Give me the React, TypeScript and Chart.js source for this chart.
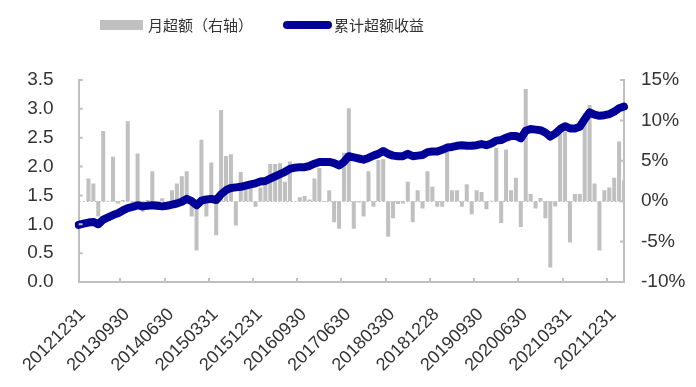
import { useEffect, useRef } from 'react';
import { Chart, registerables } from 'chart.js';

Chart.register(...registerables);

// ---- data ----
const tickLabels: string[] = [
  '20121231', '20130930', '20140630', '20150331', '20151231', '20160930', '20170630',
  '20180330', '20181228', '20190930', '20200630', '20210331', '20211231',
];

// monthly excess return (%), right axis — Dec 2012 .. Mar 2022
const monthlyExcess: number[] = [
  0, 0, 2.8, 2.2, -1.9, 8.7, 0, 5.5, -0.3, 0.15,
  9.9, -1.1, 5.9, -1.3, 0.15, 3.7, -1.1, 0.35, 0, 1.35,
  2.2, 3.1, 3.7, -1.9, -6.1, 7.6, -1.9, 4.8, -4.2, 11.3,
  5.6, 5.8, -3.0, 3.6, 2.1, 2.1, -0.7, 1.7, 2.4, 4.6,
  4.6, 4.7, 2.4, 4.9, 0, 0.5, 0.65, 0.2, 2.8, 4.1,
  -0.1, 1.35, -2.6, -3.4, 6.0, 11.5, -3.4, -0.15, -1.9, 3.7,
  -0.7, 5.1, 5.2, -4.4, -2.1, -0.35, -0.3, 2.4, -2.6, 1.35,
  -0.9, 3.7, 1.8, -0.7, -0.7, 6.2, 1.35, 1.35, -0.7, 2.1,
  -1.6, 1.35, 1.15, -1.0, 0.07, 6.6, -2.7, 6.4, 1.35, 2.9,
  -3.2, 13.9, 0.9, -0.9, 0.4, -2.1, -8.2, -0.65, 8.4, 8.6,
  -5.1, 0.9, 0.9, 10.9, 11.9, 2.2, -6.1, 1.35, 1.7, 2.9,
  7.4, 2.6,
];

// cumulative excess (net value), left axis
const cumulativeExcess: number[] = [
  0.99, 1.01, 1.03, 1.04, 1.00, 1.08, 1.12, 1.16, 1.19, 1.24,
  1.28, 1.30, 1.33, 1.31, 1.32, 1.33, 1.32, 1.31, 1.32, 1.34,
  1.36, 1.39, 1.44, 1.40, 1.33, 1.41, 1.43, 1.44, 1.42, 1.52,
  1.59, 1.63, 1.64, 1.65, 1.67, 1.69, 1.71, 1.74, 1.75, 1.79,
  1.83, 1.87, 1.91, 1.96, 1.98, 1.99, 1.99, 2.01, 2.05, 2.08,
  2.08, 2.08, 2.06, 2.02, 2.08, 2.18, 2.16, 2.14, 2.12, 2.15,
  2.19, 2.22, 2.27, 2.22, 2.19, 2.18, 2.18, 2.22, 2.18, 2.19,
  2.20, 2.25, 2.26, 2.26, 2.29, 2.33, 2.34, 2.36, 2.37, 2.36,
  2.36, 2.37, 2.39, 2.37, 2.40, 2.45, 2.46, 2.50, 2.53, 2.53,
  2.49, 2.62, 2.65, 2.64, 2.63, 2.59, 2.52, 2.57, 2.65, 2.70,
  2.66, 2.66, 2.69, 2.82, 2.94, 2.90, 2.88, 2.89, 2.91, 2.95,
  3.01, 3.04,
];

const legendBarLabel = '月超额（右轴）';
const legendLineLabel = '累计超额收益';

// category labels: labelled every 9 months, the rest are month keys
const categories: string[] = monthlyExcess.map((_, i) => {
  if (i % 9 === 0 && tickLabels[i / 9]) return tickLabels[i / 9];
  const y = 2012 + Math.floor((11 + i) / 12);
  const m = ((11 + i) % 12) + 1;
  return `${y}${m < 10 ? '0' : ''}${m}`;
});

const AXIS = '#BFBFBF';
const BAR = '#C0C0C0';
const LINE = '#000099';
const TEXT = '#333333';
const FONT = '"Liberation Sans", Arial, sans-serif';
const CJK = '"Noto Sans CJK SC", sans-serif';

const decor = {
  id: 'decor',
  beforeDatasetsDraw(chart: any) {
    const { ctx, chartArea, scales } = chart;
    const zy = Math.round(scales.y1.getPixelForValue(0)) + 0.5;
    ctx.save();
    ctx.strokeStyle = AXIS;
    ctx.lineWidth = 1;
    ctx.setLineDash([2, 2]);
    ctx.beginPath();
    ctx.moveTo(chartArea.left, zy);
    ctx.lineTo(chartArea.right, zy);
    ctx.stroke();
    ctx.restore();
  },
  afterDraw(chart: any) {
    const { ctx, chartArea, scales } = chart;
    ctx.save();
    ctx.strokeStyle = AXIS;
    ctx.lineWidth = 2;
    ctx.beginPath();
    scales.y.ticks.forEach((t: any) => {
      const p = scales.y.getPixelForValue(t.value);
      ctx.moveTo(chartArea.left, p);
      ctx.lineTo(chartArea.left + 4, p);
    });
    scales.y1.ticks.forEach((t: any) => {
      const p = scales.y1.getPixelForValue(t.value);
      ctx.moveTo(chartArea.right, p);
      ctx.lineTo(chartArea.right - 4, p);
    });
    const x = scales.x;
    const w = x.getPixelForValue(1) - x.getPixelForValue(0);
    for (let i = 9; i < categories.length; i += 9) {
      const p = Math.round(x.getPixelForValue(i) - w / 2);
      ctx.moveTo(p, chartArea.bottom);
      ctx.lineTo(p, chartArea.bottom - 4);
    }
    ctx.stroke();

    // legend
    ctx.fillStyle = BAR;
    ctx.fillRect(100, 20, 43, 10);
    ctx.strokeStyle = LINE;
    ctx.lineWidth = 8;
    ctx.lineCap = 'round';
    ctx.beginPath();
    ctx.moveTo(287, 25);
    ctx.lineTo(328, 25);
    ctx.stroke();
    ctx.fillStyle = TEXT;
    ctx.font = `15px ${CJK}`;
    ctx.textBaseline = 'middle';
    ctx.textAlign = 'left';
    ctx.fillText(legendBarLabel, 148, 25);
    ctx.fillText(legendLineLabel, 334, 25);
    ctx.restore();
  },
};

export default function App() {
  const ref = useRef<HTMLCanvasElement | null>(null);
  useEffect(() => {
    const canvas = ref.current;
    if (!canvas) return;
    const chart = new Chart(canvas, {
      type: 'bar',
      data: {
        labels: categories,
        datasets: [
          {
            type: 'line',
            label: legendLineLabel,
            data: cumulativeExcess,
            yAxisID: 'y',
            borderColor: LINE,
            backgroundColor: LINE,
            borderWidth: 8,
            pointRadius: 0,
            tension: 0,
            borderCapStyle: 'round',
            borderJoinStyle: 'round',
            order: 0,
          } as any,
          {
            type: 'bar',
            label: legendBarLabel,
            data: monthlyExcess,
            yAxisID: 'y1',
            backgroundColor: BAR,
            barPercentage: 0.82,
            categoryPercentage: 1,
            order: 1,
          } as any,
        ],
      },
      options: {
        responsive: false,
        animation: false,
        devicePixelRatio: 1,
        layout: { padding: { top: 80, left: 0, right: 0, bottom: 0 } },
        plugins: { legend: { display: false }, tooltip: { enabled: false } },
        scales: {
          x: {
            type: 'category',
            offset: false,
            grid: { display: false, drawTicks: false },
            border: { display: true, color: AXIS, width: 2 },
            ticks: {
              autoSkip: false,
              minRotation: 45,
              maxRotation: 45,
              padding: 22,
              labelOffset: 4,
              color: TEXT,
              font: { family: FONT, size: 18 },
              callback: (_v: any, i: number) => (i % 9 === 0 ? categories[i] : ''),
            },
            afterFit: (s: any) => { s.height = 105; },
          },
          y: {
            position: 'left',
            min: 0,
            max: 3.5,
            grid: { display: false, drawTicks: false },
            border: { display: true, color: AXIS, width: 2 },
            ticks: {
              stepSize: 0.5,
              padding: 25,
              color: TEXT,
              font: { family: FONT, size: 19 },
              callback: (v: any) => Number(v).toFixed(1),
            },
            afterFit: (s: any) => { s.width = 77; },
          },
          y1: {
            position: 'right',
            min: -10,
            max: 15,
            grid: { display: false, drawTicks: false },
            border: { display: true, color: AXIS, width: 2 },
            ticks: {
              stepSize: 5,
              padding: 17,
              color: TEXT,
              font: { family: FONT, size: 19 },
              callback: (v: any) => `${v}%`,
            },
            afterFit: (s: any) => { s.width = 72; },
          },
        },
      } as any,
      plugins: [decor],
    });
    return () => chart.destroy();
  }, []);
  return (
    <div style={{ position: 'fixed', left: 0, top: 0, width: 696, height: 387, background: '#fff' }}>
      <canvas ref={ref} width={696} height={387} style={{ display: 'block' }} />
    </div>
  );
}
